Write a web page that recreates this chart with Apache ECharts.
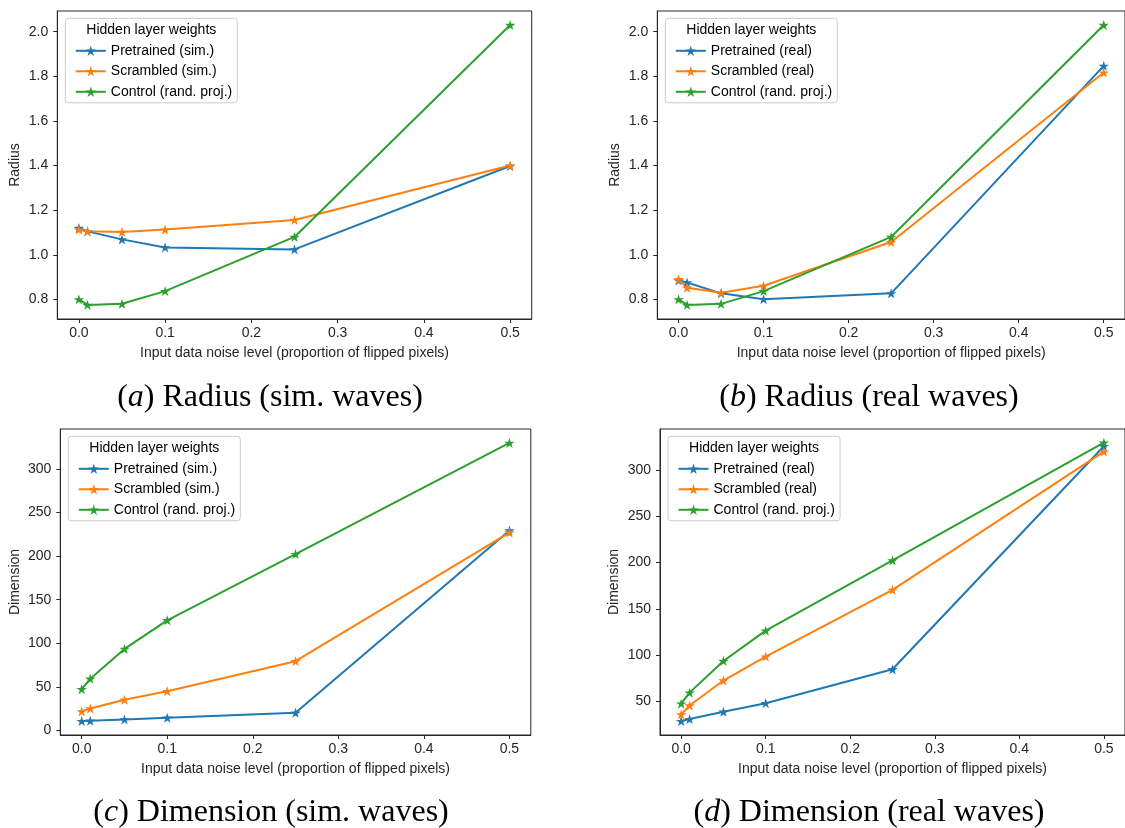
<!DOCTYPE html>
<html>
<head>
<meta charset="utf-8">
<script src="https://cdn.jsdelivr.net/npm/echarts@6/dist/echarts.min.js"></script>
<style>
html,body{margin:0;padding:0;background:#fff;}
#chart{width:1125px;height:828px;}
</style>
</head>
<body>
<div id="chart"></div>
<script>
// ---- data ----
const noise = [0, 0.01, 0.05, 0.1, 0.25, 0.5];
const xTicks = [0, 0.1, 0.2, 0.3, 0.4, 0.5];
const radiusTicks = [0.8, 1.0, 1.2, 1.4, 1.6, 1.8, 2.0];
const dimSimTicks = [0, 50, 100, 150, 200, 250, 300];
const dimRealTicks = [50, 100, 150, 200, 250, 300];

const radiusSimPre = [1.12, 1.105, 1.069, 1.033, 1.024, 1.398];
const radiusSimScr = [1.113, 1.105, 1.102, 1.113, 1.156, 1.40];
const radiusControl = [0.80, 0.775, 0.78, 0.837, 1.08, 2.03];
const radiusRealPre = [0.885, 0.876, 0.827, 0.801, 0.827, 1.847];
const radiusRealScr = [0.890, 0.852, 0.830, 0.861, 1.057, 1.817];

const dimSimPre = [10.7, 11, 12.6, 14.5, 20.2, 229.4];
const dimSimScr = [21.8, 25.2, 35.1, 45, 79.4, 227];
const dimControl = [47.3, 59.2, 93.5, 126.3, 202.3, 329.8];
const dimRealPre = [28.4, 30.6, 38.5, 47.8, 84.5, 325.9];
const dimRealScr = [35.6, 45.3, 72.3, 98.2, 170.5, 320.1];

const namesSim = ['Pretrained (sim.)', 'Scrambled (sim.)', 'Control (rand. proj.)'];
const namesReal = ['Pretrained (real)', 'Scrambled (real)', 'Control (rand. proj.)'];
const legendTitle = 'Hidden layer weights';
const xName = 'Input data noise level (proportion of flipped pixels)';
const captions = [
  ['a', ' Radius (sim. waves)'],
  ['b', ' Radius (real waves)'],
  ['c', ' Dimension (sim. waves)'],
  ['d', ' Dimension (real waves)']
];

// ---- layout ----
const colors = ['#1f77b4', '#ff7f0e', '#2ca02c'];
const FONT = '"Liberation Sans", Arial, sans-serif';
const FS = 14;
const ink = '#262626';
const STAR = 'path://M100,0 L122.45,69.1 L195.1,69.1 L136.3,111.8 L158.8,180.9 L100,138.2 L41.2,180.9 L63.7,111.8 L4.9,69.1 L77.55,69.1 Z';

const panels = [
  {L: 57.3, T: 11, W: 474.4, H: 308, ymin: 0.712, ymax: 2.093, ticks: radiusTicks, dec: 1, yName: 'Radius', gap: 35,
   series: [radiusSimPre, radiusSimScr, radiusControl], names: namesSim, cx: 270, cy: 398},
  {L: 657.3, T: 11, W: 474, H: 308, ymin: 0.712, ymax: 2.093, ticks: radiusTicks, dec: 1, yName: 'Radius', gap: 35.5,
   series: [radiusRealPre, radiusRealScr, radiusControl], names: namesReal, cx: 869, cy: 398},
  {L: 60.3, T: 429, W: 470.5, H: 306, ymin: -5.3, ymax: 345.8, ticks: dimSimTicks, dec: 0, yName: 'Dimension', gap: 38,
   series: [dimSimPre, dimSimScr, dimControl], names: namesSim, cx: 271, cy: 813},
  {L: 660, T: 429, W: 471, H: 306, ymin: 13.35, ymax: 344.6, ticks: dimRealTicks, dec: 0, yName: 'Dimension', gap: 38.5,
   series: [dimRealPre, dimRealScr, dimControl], names: namesReal, cx: 869, cy: 813}
];

const grid = [], xAxis = [], yAxis = [], series = [], legend = [], graphic = [];
panels.forEach((p, i) => {
  grid.push({left: p.L, top: p.T, width: p.W, height: p.H, show: true, borderColor: ink, borderWidth: 1, backgroundColor: 'transparent'});
  xAxis.push({
    type: 'value', gridIndex: i, min: -0.025, max: 0.525,
    name: xName, nameLocation: 'middle', nameGap: 27,
    nameTextStyle: {fontFamily: FONT, fontSize: FS, color: ink},
    axisLine: {show: true, onZero: false, lineStyle: {color: ink, width: 1}},
    axisTick: {show: true, length: 4, customValues: xTicks, lineStyle: {color: ink}},
    axisLabel: {customValues: xTicks, margin: 7, fontFamily: FONT, fontSize: FS, color: ink,
      formatter: v => Number(v).toFixed(1)},
    splitLine: {show: false}
  });
  yAxis.push({
    type: 'value', gridIndex: i, min: p.ymin, max: p.ymax,
    name: p.yName, nameLocation: 'middle', nameGap: p.gap,
    nameTextStyle: {fontFamily: FONT, fontSize: FS, color: ink},
    axisLine: {show: true, onZero: false, lineStyle: {color: ink, width: 1}},
    axisTick: {show: true, length: 4, customValues: p.ticks, lineStyle: {color: ink}},
    axisLabel: {customValues: p.ticks, margin: 9, fontFamily: FONT, fontSize: FS, color: ink,
      formatter: v => Number(v).toFixed(p.dec)},
    splitLine: {show: false}
  });
  p.series.forEach((vals, k) => {
    series.push({
      type: 'line', name: p.names[k], xAxisIndex: i, yAxisIndex: i,
      data: noise.map((x, j) => [x, vals[j]]),
      symbol: STAR, symbolSize: [10.5, 10], showSymbol: true,
      color: colors[k],
      lineStyle: {width: 2, color: colors[k]},
      itemStyle: {color: colors[k]},
      animation: false, silent: true
    });
  });
  const bx = p.L + 8, by = p.T + 7.3;
  graphic.push({type: 'rect', shape: {x: bx, y: by, width: 172, height: 84.5, r: 3},
    style: {fill: 'rgba(255,255,255,0.85)', stroke: '#cccccc', lineWidth: 1}, z: 100});
  graphic.push({type: 'text', x: bx + 86, y: by + 11.8, z: 101,
    style: {text: legendTitle, fill: '#000', font: FS + 'px ' + FONT, align: 'center', verticalAlign: 'middle'}});
  legend.push({
    orient: 'vertical', left: p.L + 12.5, top: p.T + 27.8, z: 110,
    data: p.names, itemWidth: 30, itemHeight: 13, itemGap: 6.5,
    textStyle: {fontFamily: FONT, fontSize: FS, color: '#000', lineHeight: 14},
    selectedMode: false
  });
  graphic.push({type: 'text', x: p.cx, y: p.cy, z: 10,
    style: {
      text: '(' + '{it|' + captions[i][0] + '}' + ')' + captions[i][1],
      font: '32px "Liberation Serif", "Times New Roman", serif', fill: '#000',
      align: 'center', verticalAlign: 'middle',
      rich: {it: {fontStyle: 'italic', fontFamily: '"Liberation Serif", serif', fontSize: 32, fill: '#000'}}
    }});
});

const chart = echarts.init(document.getElementById('chart'), null, {renderer: 'canvas'});
chart.setOption({
  animation: false,
  backgroundColor: '#ffffff',
  grid, xAxis, yAxis, series, legend, graphic
});
</script>
</body>
</html>
